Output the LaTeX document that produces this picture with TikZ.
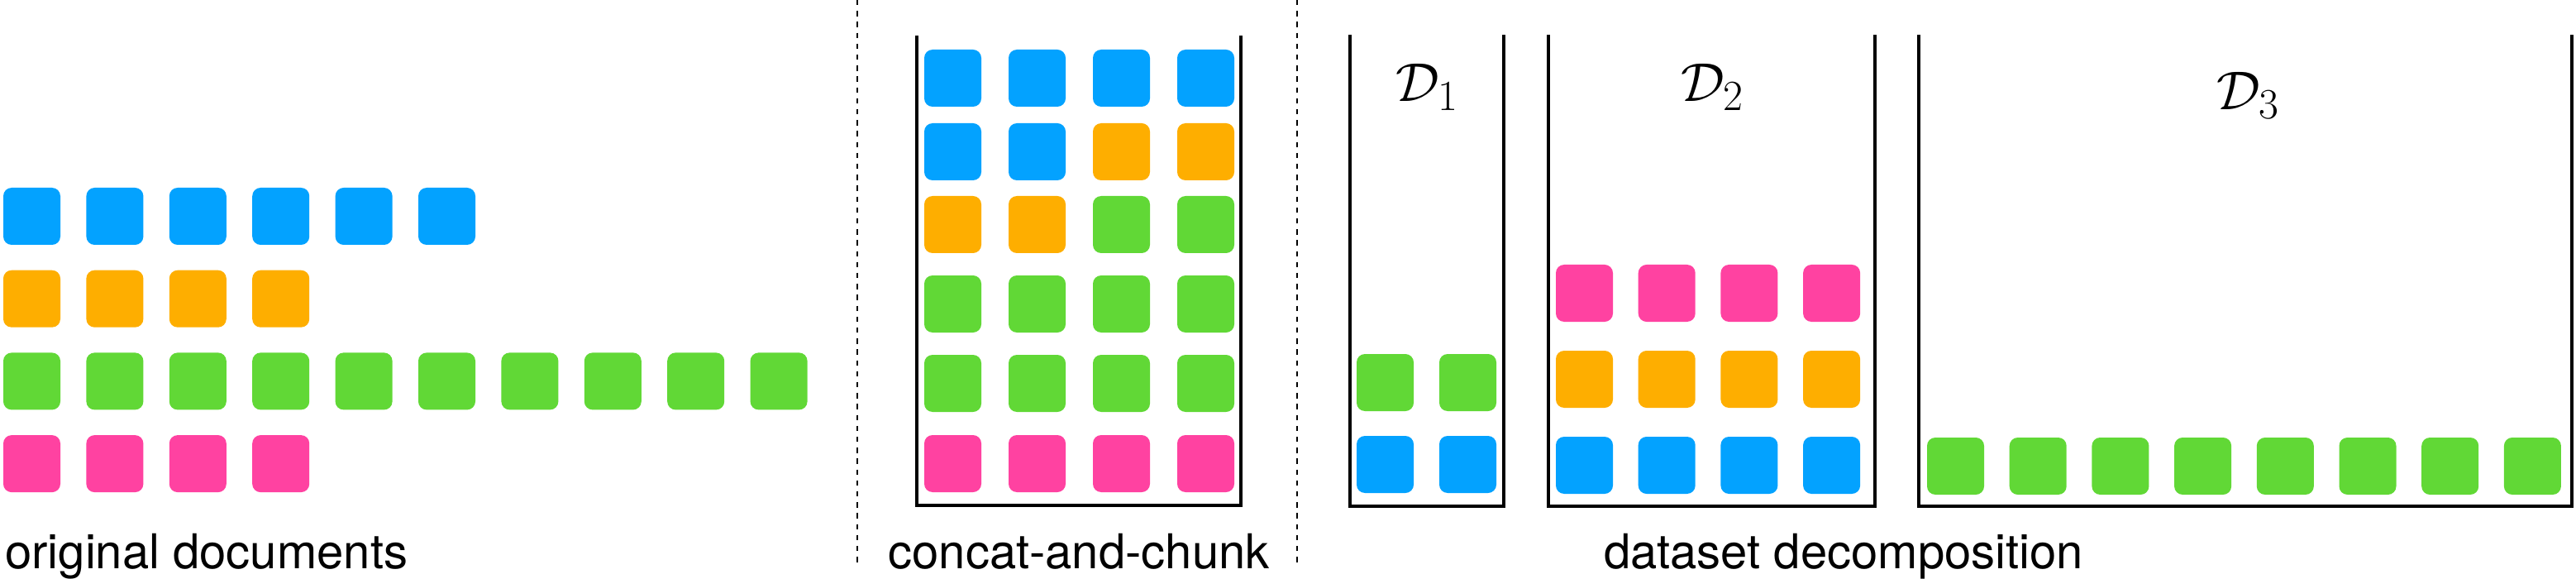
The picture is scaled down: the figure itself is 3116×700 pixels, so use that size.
\RequirePackage{fix-cm}
\documentclass[tikz,border=0pt]{standalone}
\usepackage[no-math]{fontspec}
\usepackage{xcolor}
\usepackage{tikz}
\newfontfamily\helv{TeX Gyre Heros}
\DeclareMathSizes{33}{33}{26}{20}
\definecolor{tokblue}{RGB}{3,162,255}
\definecolor{tokorange}{RGB}{254,174,0}
\definecolor{tokgreen}{RGB}{97,216,54}
\definecolor{tokpink}{RGB}{255,66,161}
\tikzstyle{tok} = [rectangle, rounded corners=5pt, minimum size=34.5pt, inner sep=0pt]
\tikzstyle{bin} = [draw=black, line width=1.6pt]
\tikzstyle{sep} = [draw=black, line width=1.35pt, dash pattern=on 3.2pt off 3.4pt]
\tikzstyle{caption} = [font=\helv\fontsize{29}{35}\selectfont, anchor=base, inner sep=0pt]
\tikzstyle{binlabel} = [font=\fontsize{33}{40}\selectfont, anchor=base, inner sep=0pt]

\begin{document}
\begin{tikzpicture}[x=0.5pt, y=-0.5pt]
        \useasboundingbox (0,0) rectangle (3116,700);
        % original documents
        \foreach \col/\n [count=\r] in {tokblue/6, tokorange/4, tokgreen/10, tokpink/4}
            \foreach \i in {1,...,\n}
                \node[tok, fill=\col] (doc\r-\i) at ({38.5+100.4*(\i-1)}, {261.5+99.7*(\r-1)}) {};
        \node[caption, anchor=base west] (capdoc) at (6,687) {original documents};
        \draw[sep] (1037,0) -- (1037,680);
        % concat-and-chunk
        \draw[bin] (1109,43) |- (1501,611) -- (1501,43);
        \foreach \col [count=\c] in {tokblue,tokblue,tokblue,tokblue}
            \node[tok, fill=\col] (chunk1-\c) at ({1152.5+102*(\c-1)}, 94.5) {};
        \foreach \col [count=\c] in {tokblue,tokblue,tokorange,tokorange}
            \node[tok, fill=\col] (chunk2-\c) at ({1152.5+102*(\c-1)}, 183.5) {};
        \foreach \col [count=\c] in {tokorange,tokorange,tokgreen,tokgreen}
            \node[tok, fill=\col] (chunk3-\c) at ({1152.5+102*(\c-1)}, 271.5) {};
        \foreach \col [count=\c] in {tokgreen,tokgreen,tokgreen,tokgreen}
            \node[tok, fill=\col] (chunk4-\c) at ({1152.5+102*(\c-1)}, 367.5) {};
        \foreach \col [count=\c] in {tokgreen,tokgreen,tokgreen,tokgreen}
            \node[tok, fill=\col] (chunk5-\c) at ({1152.5+102*(\c-1)}, 463.5) {};
        \foreach \col [count=\c] in {tokpink,tokpink,tokpink,tokpink}
            \node[tok, fill=\col] (chunk6-\c) at ({1152.5+102*(\c-1)}, 560.5) {};
        \node[caption] (capchunk) at (1305,687) {concat-and-chunk};
        \draw[sep] (1569,0) -- (1569,680);
        % dataset decomposition
        \draw[bin] (1633,42) |- (1819,612) -- (1819,42);
        \draw[bin] (1873,42) |- (2268,612) -- (2268,42);
        \draw[bin] (2321,42) |- (3111,612) -- (3111,42);
        \node[binlabel] (lab1) at (1726,123) {$\mathcal{D}_1$};
        \node[binlabel] (lab2) at (2071,123) {$\mathcal{D}_2$};
        \node[binlabel] (lab3) at (2719,133) {$\mathcal{D}_3$};
        \foreach \col/\y [count=\r] in {tokgreen/462.5, tokblue/561.5}
            \foreach \c in {1,2}
                \node[tok, fill=\col] (bina\r-\c) at ({1675.5+100*(\c-1)}, \y) {};
        \foreach \col/\y [count=\r] in {tokpink/354.5, tokorange/458.5, tokblue/562.5}
            \foreach \c in {1,...,4}
                \node[tok, fill=\col] (binb\r-\c) at ({1916.5+99.7*(\c-1)}, \y) {};
        \foreach \c in {1,...,8}
            \node[tok, fill=tokgreen] (binc-\c) at ({2365.5+99.7*(\c-1)}, 563.5) {};
        \node[caption] (capdec) at (2230,687) {dataset decomposition};
    \end{tikzpicture}
\end{document}
